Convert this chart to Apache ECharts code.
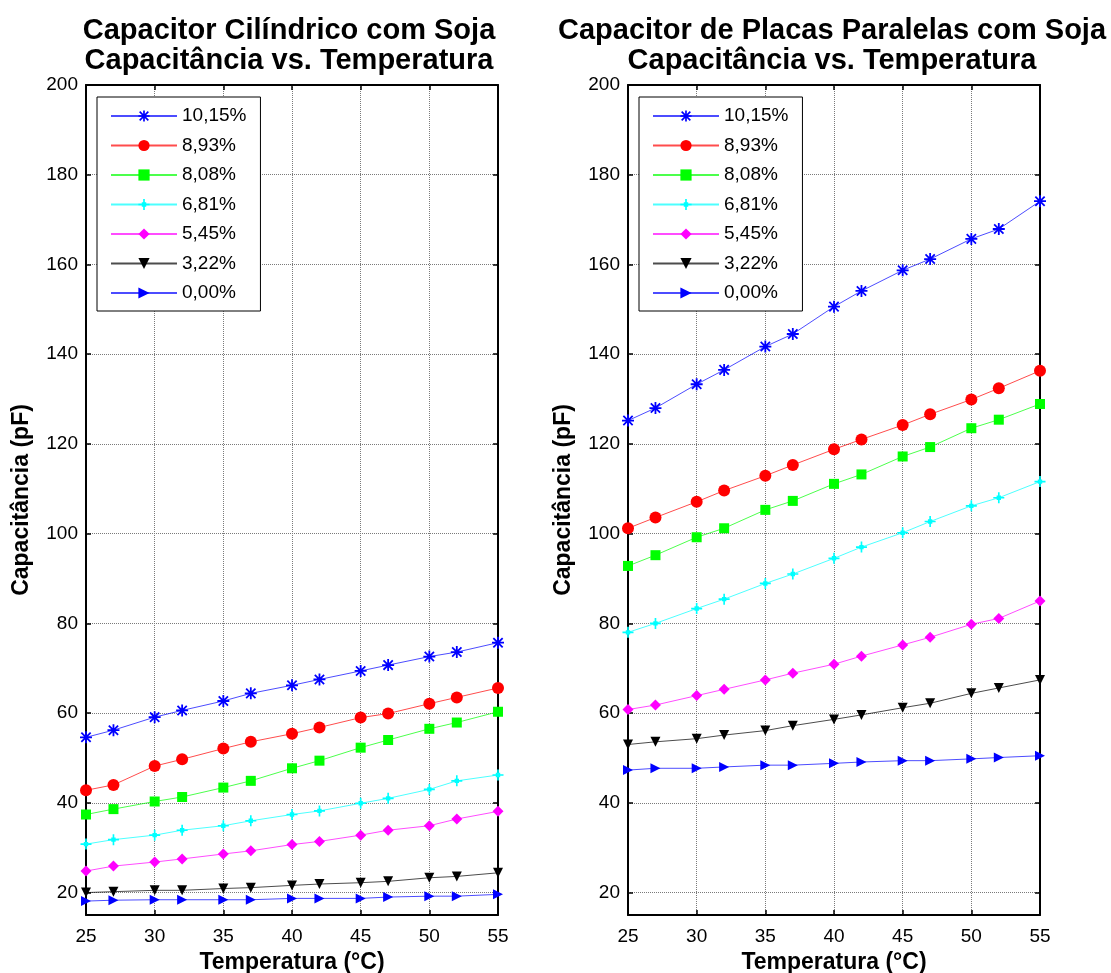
<!DOCTYPE html>
<html lang="pt">

<head>
    <meta http-equiv="Content-Type" content="text/html;charset=UTF-8">
    <title>Capacitância vs. Temperatura</title>
    <script src="https://cdn.jsdelivr.net/npm/echarts@6/dist/echarts.min.js"></script>
    <style type="text/css">
        body {
            margin: 0;
            background: #fff;
        }

        #main {
            width: 1111px;
            height: 973px;
        }
    </style>
</head>

<body>
    <div id="main"></div>
</body>
<script>
    // temperaturas medidas (°C)
    var temps = [25, 27, 30, 32, 35, 37, 40, 42, 45, 47, 50, 52, 55];
    var umidades = ['10,15%', '8,93%', '8,08%', '6,81%', '5,45%', '3,22%', '0,00%'];
    var yTicks = [20, 40, 60, 80, 100, 120, 140, 160, 180, 200];

    // capacitor cilindrico (pF)
    var cil1015 = [54.6, 56.2, 59.1, 60.6, 62.7, 64.4, 66.2, 67.5, 69.4, 70.7, 72.6, 73.6, 75.7];
    var cil893 = [42.8, 44.0, 48.2, 49.7, 52.1, 53.6, 55.4, 56.8, 59.0, 59.9, 62.1, 63.5, 65.6];
    var cil808 = [37.4, 38.6, 40.3, 41.3, 43.4, 44.9, 47.7, 49.4, 52.3, 54.0, 56.5, 57.9, 60.3];
    var cil681 = [30.8, 31.8, 32.8, 33.9, 34.9, 36.0, 37.4, 38.2, 39.9, 41.0, 43.0, 44.9, 46.2];
    var cil545 = [24.8, 25.9, 26.8, 27.5, 28.6, 29.3, 30.7, 31.4, 32.8, 33.9, 34.9, 36.4, 38.1];
    var cil322 = [20.0, 20.2, 20.5, 20.5, 20.9, 21.1, 21.6, 21.9, 22.2, 22.5, 23.3, 23.6, 24.4];
    var cil000 = [18.1, 18.3, 18.4, 18.4, 18.4, 18.4, 18.7, 18.7, 18.7, 19.0, 19.2, 19.2, 19.6];

    // capacitor de placas paralelas (pF)
    var par1015 = [125.2, 128.0, 133.3, 136.5, 141.7, 144.5, 150.6, 154.1, 158.7, 161.2, 165.7, 167.9, 174.1];
    var par893 = [101.2, 103.6, 107.1, 109.6, 112.9, 115.3, 118.8, 121.0, 124.2, 126.6, 129.9, 132.4, 136.3];
    var par808 = [92.8, 95.2, 99.2, 101.2, 105.3, 107.3, 111.1, 113.2, 117.2, 119.3, 123.5, 125.4, 128.9];
    var par681 = [78.0, 80.0, 83.3, 85.4, 88.9, 91.0, 94.5, 97.0, 100.2, 102.7, 106.2, 108.0, 111.6];
    var par545 = [60.8, 61.8, 63.9, 65.3, 67.4, 68.9, 70.9, 72.7, 75.2, 76.9, 79.8, 81.1, 85.0];
    var par322 = [53.0, 53.6, 54.3, 55.1, 56.1, 57.2, 58.6, 59.6, 61.2, 62.2, 64.4, 65.6, 67.4];
    var par000 = [47.3, 47.7, 47.7, 48.0, 48.4, 48.4, 48.8, 49.1, 49.4, 49.4, 49.8, 50.1, 50.5];

    var font = '"Liberation Sans", Arial, sans-serif';

    // marcadores estilo matlab
    var asterisco = 'path://M0 8.5L20 8.5L20 11.5L0 11.5Z M8.5 0L11.5 0L11.5 20L8.5 20Z M1.2 3.3L3.3 1.2L18.8 16.7L16.7 18.8Z M16.7 1.2L18.8 3.3L3.3 18.8L1.2 16.7Z';
    var mais = 'path://M0 8.5L20 8.5L20 11.5L0 11.5Z M8.5 0L11.5 0L11.5 20L8.5 20Z M6 6L14 6L14 14L6 14Z';

    var estilos = [
        { color: '#0000ff', symbol: asterisco, size: 12, rotate: 0 },
        { color: '#ff0000', symbol: 'circle', size: 12, rotate: 0 },
        { color: '#00ff00', symbol: 'rect', size: 10, rotate: 0 },
        { color: '#00ffff', symbol: mais, size: 11, rotate: 0 },
        { color: '#ff00ff', symbol: 'diamond', size: 11, rotate: 0 },
        { color: '#000000', symbol: 'triangle', size: 10, rotate: 180 },
        { color: '#0000ff', symbol: 'triangle', size: 10, rotate: -90 }
    ];

    var pares = function (ys) {
        var res = [];
        for (var i = 0; i < temps.length; i++) {
            res.push([temps[i], ys[i]]);
        }
        return res;
    };

    var makeSeries = function (lista, eixo) {
        return lista.map(function (ys, i) {
            var e = estilos[i];
            return {
                name: umidades[i],
                type: 'line',
                xAxisIndex: eixo * 2,
                yAxisIndex: eixo * 2,
                data: pares(ys),
                symbol: e.symbol,
                symbolSize: e.size,
                symbolRotate: e.rotate,
                showAllSymbol: true,
                lineStyle: { color: e.color, width: 1, opacity: 0.7 },
                itemStyle: { color: e.color },
                emphasis: { disabled: true },
                animation: false
            };
        });
    };

    var xAxisBase = function (grid, pos) {
        var bottom = pos === 'bottom';
        return {
            type: 'value',
            gridIndex: grid,
            position: pos,
            min: 25,
            max: 55,
            interval: 5,
            name: bottom ? 'Temperatura (°C)' : '',
            nameLocation: 'middle',
            nameGap: 34,
            nameTextStyle: { fontFamily: font, fontSize: 23, fontWeight: 'bold', color: '#000' },
            axisLine: { show: true, onZero: false, lineStyle: { color: '#000', width: 2 } },
            axisTick: { show: true, inside: true, length: 5, lineStyle: { color: '#000', width: 1.5 } },
            axisLabel: { show: bottom, margin: 12, fontFamily: font, fontSize: 19, color: '#000' },
            splitLine: { show: bottom, lineStyle: { color: '#7a7a7a', type: 'dotted', width: 1 } }
        };
    };

    var yAxisBase = function (grid, pos) {
        var left = pos === 'left';
        return {
            type: 'value',
            gridIndex: grid,
            position: pos,
            min: 15,
            max: 200,
            name: left ? 'Capacitância (pF)' : '',
            nameLocation: 'middle',
            nameGap: 53,
            nameTextStyle: { fontFamily: font, fontSize: 23, fontWeight: 'bold', color: '#000' },
            axisLine: { show: true, onZero: false, lineStyle: { color: '#000', width: 2 } },
            axisTick: { show: true, inside: true, length: 5, customValues: yTicks, lineStyle: { color: '#000', width: 1.5 } },
            axisLabel: { show: left, margin: 8, customValues: yTicks, fontFamily: font, fontSize: 19, color: '#000' },
            splitLine: { show: left, lineStyle: { color: '#7a7a7a', type: 'dotted', width: 1 } }
        };
    };

    var legendBase = function (x) {
        return {
            orient: 'vertical',
            left: x,
            top: 97,
            data: umidades,
            itemWidth: 66,
            itemHeight: 14,
            itemGap: 10.5,
            padding: [9.5, 14, 8.5, 13],
            borderColor: '#000',
            borderWidth: 1,
            backgroundColor: '#fff',
            selectedMode: false,
            textStyle: { fontFamily: font, fontSize: 19, color: '#000' }
        };
    };

    var tituloBase = function (x, texto) {
        return {
            text: texto,
            left: x,
            top: 16,
            padding: 0,
            textAlign: 'center',
            textStyle: { fontFamily: font, fontSize: 29, fontWeight: 'bold', color: '#000', lineHeight: 30 }
        };
    };

    option = {
        backgroundColor: '#fff',
        animation: false,
        title: [
            tituloBase(289, 'Capacitor Cilíndrico com Soja\nCapacitância vs. Temperatura'),
            tituloBase(832, 'Capacitor de Placas Paralelas com Soja\nCapacitância vs. Temperatura')
        ],
        legend: [legendBase(97), legendBase(639)],
        grid: [
            { left: 86, right: 613, top: 85, bottom: 58, outerBoundsMode: 'none' },
            { left: 628, right: 71, top: 85, bottom: 58, outerBoundsMode: 'none' }
        ],
        xAxis: [xAxisBase(0, 'bottom'), xAxisBase(0, 'top'), xAxisBase(1, 'bottom'), xAxisBase(1, 'top')],
        yAxis: [yAxisBase(0, 'left'), yAxisBase(0, 'right'), yAxisBase(1, 'left'), yAxisBase(1, 'right')],
        series: makeSeries([cil1015, cil893, cil808, cil681, cil545, cil322, cil000], 0)
            .concat(makeSeries([par1015, par893, par808, par681, par545, par322, par000], 1))
    };

    var myChart = echarts.init(document.getElementById('main'));

    myChart.setOption(option);
</script>

</html>
